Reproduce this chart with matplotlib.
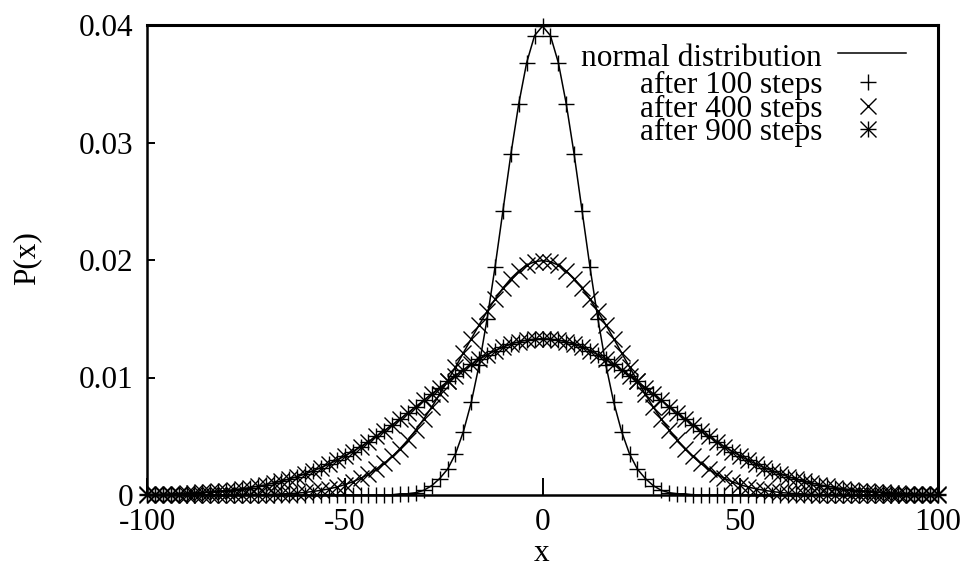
import matplotlib
matplotlib.use("Agg")
import matplotlib.pyplot as plt

plt.rcParams['font.family'] = ['Liberation Serif', 'DejaVu Serif']
plt.rcParams['axes.unicode_minus'] = False

# positions of the walker (even sites only)
x = list(range(-100, 101, 2))

# P(x) after 100 steps
p100 = [0.0, 0.0, 0.0, 0.0, 0.0, 0.0, 0.0, 0.0, 0.0, 0.0,
        0.0, 0.0, 0.0, 0.0, 0.0, 0.0, 0.0, 0.0, 0.0, 0.0,
        0.0, 0.0, 0.0, 0.0, 0.0, 0.0, 0.0, 0.0, 0.0, 0.0,
        0.0, 0.0, 0.0001, 0.0001, 0.0002, 0.0004, 0.0008, 0.0014, 0.0022, 0.0035,
        0.0054, 0.0079, 0.0111, 0.0150, 0.0194, 0.0242, 0.0290, 0.0333, 0.0368, 0.0391,
        0.0399,
        0.0391, 0.0368, 0.0333, 0.0290, 0.0242, 0.0194, 0.0150, 0.0111, 0.0079, 0.0054,
        0.0035, 0.0022, 0.0014, 0.0008, 0.0004, 0.0002, 0.0001, 0.0001, 0.0, 0.0,
        0.0, 0.0, 0.0, 0.0, 0.0, 0.0, 0.0, 0.0, 0.0, 0.0,
        0.0, 0.0, 0.0, 0.0, 0.0, 0.0, 0.0, 0.0, 0.0, 0.0,
        0.0, 0.0, 0.0, 0.0, 0.0, 0.0, 0.0, 0.0, 0.0, 0.0]

# after 400 steps
p400 = [0.0, 0.0, 0.0, 0.0, 0.0, 0.0, 0.0, 0.0, 0.0, 0.0,
        0.0, 0.00001, 0.00001, 0.00002, 0.00003, 0.00004, 0.00006, 0.00009, 0.00012, 0.00016,
        0.00022, 0.00030, 0.00040, 0.00052, 0.00068, 0.00088, 0.00112, 0.00142, 0.00177, 0.00220,
        0.00270, 0.00328, 0.00395, 0.00470, 0.00555, 0.00648, 0.00749, 0.00857, 0.00971, 0.01089,
        0.01210, 0.01331, 0.01449, 0.01562, 0.01666, 0.01761, 0.01842, 0.01907, 0.01956, 0.01985,
        0.01995,
        0.01985, 0.01956, 0.01907, 0.01842, 0.01761, 0.01666, 0.01562, 0.01449, 0.01331, 0.01210,
        0.01089, 0.00971, 0.00857, 0.00749, 0.00648, 0.00555, 0.00470, 0.00395, 0.00328, 0.00270,
        0.00220, 0.00177, 0.00142, 0.00112, 0.00088, 0.00068, 0.00052, 0.00040, 0.00030, 0.00022,
        0.00016, 0.00012, 0.00009, 0.00006, 0.00004, 0.00003, 0.00002, 0.00001, 0.00001, 0.0,
        0.0, 0.0, 0.0, 0.0, 0.0, 0.0, 0.0, 0.0, 0.0, 0.0]

# after 900 steps
p900 = [0.00005, 0.00006, 0.00008, 0.00010, 0.00012, 0.00015, 0.00018, 0.00022, 0.00026, 0.00032,
        0.00038, 0.00045, 0.00054, 0.00063, 0.00075, 0.00087, 0.00102, 0.00118, 0.00137, 0.00157,
        0.00180, 0.00205, 0.00233, 0.00263, 0.00296, 0.00332, 0.00370, 0.00411, 0.00454, 0.00499,
        0.00547, 0.00596, 0.00647, 0.00700, 0.00753, 0.00807, 0.00860, 0.00914, 0.00966, 0.01016,
        0.01065, 0.01111, 0.01154, 0.01193, 0.01228, 0.01258, 0.01284, 0.01304, 0.01318, 0.01327,
        0.01330,
        0.01327, 0.01318, 0.01304, 0.01284, 0.01258, 0.01228, 0.01193, 0.01154, 0.01111, 0.01065,
        0.01016, 0.00966, 0.00914, 0.00860, 0.00807, 0.00753, 0.00700, 0.00647, 0.00596, 0.00547,
        0.00499, 0.00454, 0.00411, 0.00370, 0.00332, 0.00296, 0.00263, 0.00233, 0.00205, 0.00180,
        0.00157, 0.00137, 0.00118, 0.00102, 0.00087, 0.00075, 0.00063, 0.00054, 0.00045, 0.00038,
        0.00032, 0.00026, 0.00022, 0.00018, 0.00015, 0.00012, 0.00010, 0.00008, 0.00006, 0.00005]

labels = ['normal distribution', 'after 100 steps', 'after 400 steps', 'after 900 steps']

fig = plt.figure(figsize=(9.65, 5.69), dpi=100)
ax = fig.add_axes([147 / 965, 1 - 495 / 569, (938 - 147) / 965, (495 - 25) / 569])

ms = 12
fs = 22.5
# normal curves
for p in (p100, p400, p900):
    ax.plot(x, p, color='black', lw=1.1)
ax.plot(x, p100, ls='none', marker='+', ms=ms, mew=1, color='black', clip_on=False)
ax.plot(x, p400, ls='none', marker='x', ms=ms, mew=1, color='black', clip_on=False)
ax.plot(x, p900, ls='none', marker='+', ms=ms, mew=1, color='black', clip_on=False)
ax.plot(x, p900, ls='none', marker='x', ms=ms, mew=1, color='black', clip_on=False)

ax.set_xlim(-100, 100)
ax.set_ylim(0, 0.04)
ax.set_xticks([-100, -50, 0, 50, 100])
ax.set_xticklabels(['-100', '-50', '0', '50', '100'])
ax.set_yticks([0, 0.01, 0.02, 0.03, 0.04])
ax.set_yticklabels(['0', '0.01', '0.02', '0.03', '0.04'])
ax.tick_params(direction='in', width=1.4, labelsize=fs, top=False, right=False)
ax.tick_params(axis='x', length=12, pad=9)
ax.tick_params(axis='y', length=6, pad=10)
for s in ax.spines.values():
    s.set_linewidth(1.8)
ax.spines['top'].set_linewidth(2.2)
ax.spines['right'].set_linewidth(2.2)

# axis titles placed like gnuplot does
fig.text(542 / 965, 1 / 569, 'x', ha='center', va='bottom', fontsize=fs)
fig.text(27 / 965, 1 - 258 / 569, 'P(x)', ha='center', va='center', rotation=90, fontsize=fs)

# legend drawn by hand, gnuplot style: text right-aligned, sample to the right
rows_y = [59, 85, 109, 132]
tx = 822 / 965
for lab, ry in zip(labels, rows_y):
    fig.text(tx, 1 - ry / 569, lab, ha='right', va='center', fontsize=fs)
ax.plot([838 / 965, 906 / 965], [1 - 53 / 569] * 2, transform=fig.transFigure,
        color='black', lw=1.1, clip_on=False)
mx = 868 / 965
ax.plot([mx], [1 - 82 / 569], transform=fig.transFigure, marker='+', ms=ms, mew=1,
        color='black', clip_on=False)
ax.plot([mx], [1 - 106 / 569], transform=fig.transFigure, marker='x', ms=ms, mew=1,
        color='black', clip_on=False)
ax.plot([mx], [1 - 129 / 569], transform=fig.transFigure, marker='+', ms=ms, mew=1,
        color='black', clip_on=False)
ax.plot([mx], [1 - 129 / 569], transform=fig.transFigure, marker='x', ms=ms, mew=1,
        color='black', clip_on=False)

fig.savefig('out.png', dpi=100)
